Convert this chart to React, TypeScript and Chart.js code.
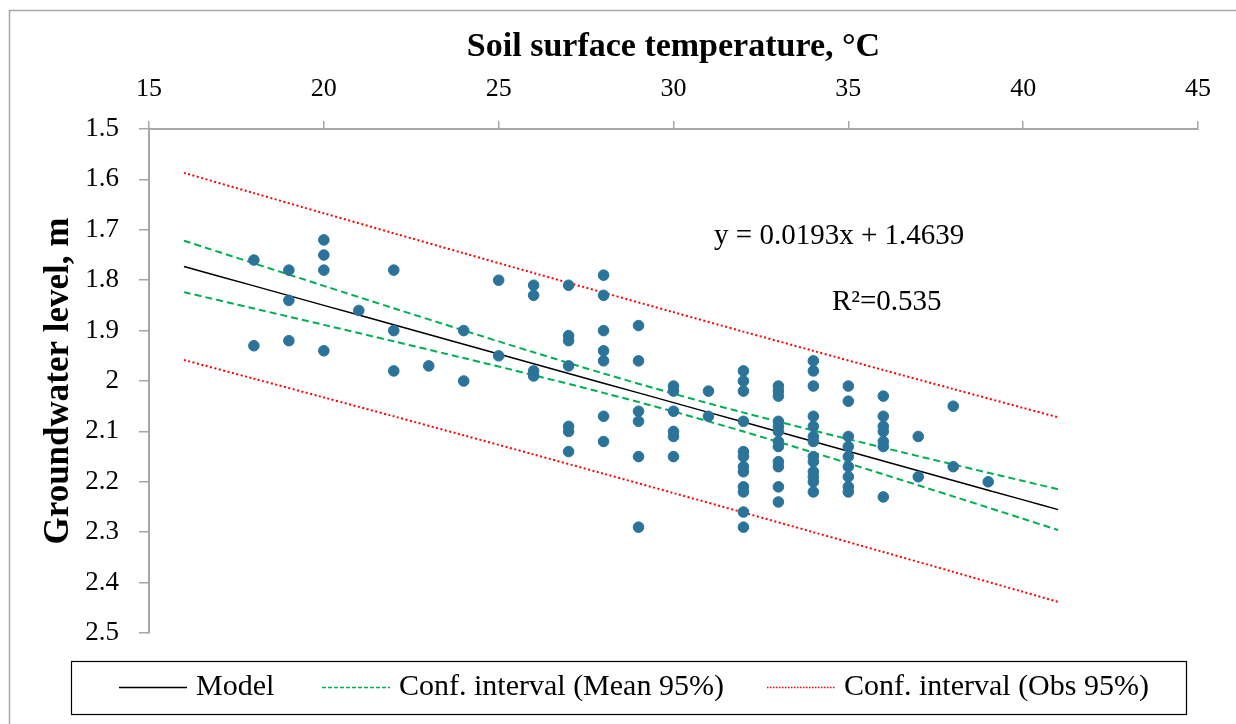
import React, { useEffect, useRef } from "react";
import { Chart, registerables } from "chart.js";

Chart.register(...registerables);

// ---------- data ----------
const xTickValues = [15, 20, 25, 30, 35, 40, 45];
const yTickValues = [1.5, 1.6, 1.7, 1.8, 1.9, 2.0, 2.1, 2.2, 2.3, 2.4, 2.5];
const yTickLabels = ["1.5", "1.6", "1.7", "1.8", "1.9", "2", "2.1", "2.2", "2.3", "2.4", "2.5"];

// observed soil surface temperatures and the groundwater levels observed at each
const obsTemps = [18, 19, 20, 21, 22, 23, 24, 25, 26, 27, 28, 29, 30, 31, 32, 33, 34, 35, 36, 37, 38, 39];
const obsLevels = [
  [1.76, 1.93],
  [1.78, 1.84, 1.92],
  [1.72, 1.75, 1.78, 1.94],
  [1.86],
  [1.78, 1.9, 1.98],
  [1.97],
  [1.9, 2.0],
  [1.8, 1.95],
  [1.81, 1.83, 1.98, 1.99],
  [1.81, 1.91, 1.92, 1.97, 2.09, 2.1, 2.14],
  [1.79, 1.83, 1.9, 1.94, 1.96, 2.07, 2.12],
  [1.89, 1.96, 2.06, 2.08, 2.15, 2.29],
  [2.01, 2.02, 2.06, 2.1, 2.11, 2.15],
  [2.02, 2.07],
  [1.98, 2.0, 2.02, 2.08, 2.14, 2.15, 2.17, 2.18, 2.21, 2.22, 2.26, 2.29],
  [2.01, 2.02, 2.03, 2.08, 2.09, 2.1, 2.12, 2.13, 2.16, 2.17, 2.21, 2.24],
  [1.96, 1.98, 2.01, 2.07, 2.09, 2.11, 2.12, 2.15, 2.16, 2.18, 2.19, 2.2, 2.22],
  [2.01, 2.04, 2.11, 2.13, 2.15, 2.17, 2.19, 2.21, 2.22],
  [2.03, 2.07, 2.09, 2.1, 2.12, 2.13, 2.23],
  [2.11, 2.19],
  [2.05, 2.17],
  [2.2],
];

// regression model and confidence bands, read along the fitted range
const bandTemps = [16, 18, 20, 22, 24, 26, 28, 30, 32, 34, 36, 38, 40, 41];
const modelLevels = [1.7727, 1.8113, 1.8499, 1.8885, 1.9271, 1.9657, 2.0043, 2.0429, 2.0815, 2.1201, 2.1587, 2.1973, 2.2359, 2.2552];
const meanUpper = [1.7217, 1.7665, 1.8112, 1.8557, 1.8997, 1.943, 1.9851, 2.0252, 2.0628, 2.0982, 2.1323, 2.1656, 2.1984, 2.2147];
const meanLower = [1.8237, 1.8561, 1.8886, 1.9213, 1.9545, 1.9884, 2.0235, 2.0606, 2.1002, 2.142, 2.1851, 2.229, 2.2734, 2.2957];
const obsUpper = [1.587, 1.6272, 1.6672, 1.7069, 1.7464, 1.7857, 1.8247, 1.8635, 1.902, 1.9402, 1.9782, 2.0159, 2.0534, 2.0721];
const obsLower = [1.9584, 1.9954, 2.0326, 2.0701, 2.1078, 2.1457, 2.1839, 2.2223, 2.261, 2.3, 2.3392, 2.3787, 2.4184, 2.4383];

const equationText = "y = 0.0193x + 1.4639";
const r2Text = "R\u00b2=0.535";
const legendLabels = ["Model", "Conf. interval (Mean 95%)", "Conf. interval (Obs 95%)"];

// ---------- styles ----------
const FONT = "'Liberation Serif', 'Times New Roman', serif";
const AXIS_GRAY = "#a6a6a6";
const POINT_COLOR = "#2b7399";
const GREEN = "#00b050";
const RED = "#ff0000";

const toPoints = (xs: number[], ys: number[]) => xs.map((x, i) => ({ x, y: ys[i] }));

const decorPlugin = {
  id: "decor",
  beforeDraw(chart: any) {
    const { ctx } = chart;
    ctx.save();
    ctx.strokeStyle = AXIS_GRAY;
    ctx.lineWidth = 1.5;
    ctx.strokeRect(9.5, 10.5, 1400, 1000);
    ctx.restore();
  },
  afterDraw(chart: any) {
    const { ctx, scales } = chart;
    const xs = scales.x;
    const ys = scales.y;
    ctx.save();
    ctx.fillStyle = "#000";
    ctx.textBaseline = "middle";
    ctx.textAlign = "left";
    ctx.font = `29px ${FONT}`;
    ctx.fillText(equationText, xs.getPixelForValue(31.16), ys.getPixelForValue(1.714));
    ctx.fillText(r2Text, xs.getPixelForValue(34.53), ys.getPixelForValue(1.845));

    // legend box
    ctx.strokeStyle = "#000";
    ctx.lineWidth = 1.2;
    ctx.strokeRect(71.5, 661.5, 1115, 53);
    const cy = 687.5;
    const items = [
      { label: legendLabels[0], color: "#000", dash: [] as number[], x: 119 },
      { label: legendLabels[1], color: GREEN, dash: [4, 2], x: 322 },
      { label: legendLabels[2], color: RED, dash: [1.5, 1.5], x: 767 },
    ];
    ctx.font = `30px ${FONT}`;
    items.forEach((it) => {
      ctx.beginPath();
      ctx.setLineDash(it.dash);
      ctx.strokeStyle = it.color;
      ctx.lineWidth = 1.5;
      ctx.moveTo(it.x, cy);
      ctx.lineTo(it.x + 68, cy);
      ctx.stroke();
      ctx.setLineDash([]);
      ctx.fillStyle = "#000";
      ctx.fillText(it.label, it.x + 77, cy);
    });
    ctx.restore();
  },
};

export default function App() {
  const canvasRef = useRef<HTMLCanvasElement | null>(null);

  useEffect(() => {
    const canvas = canvasRef.current;
    if (!canvas) return;
    const scatterPoints: { x: number; y: number }[] = [];
    obsTemps.forEach((t, i) => obsLevels[i].forEach((v) => scatterPoints.push({ x: t, y: v })));

    const lineBase = { type: "line" as const, pointRadius: 0, fill: false, tension: 0.3, order: 2 };

    const chart = new Chart(canvas, {
      type: "scatter",
      data: {
        datasets: [
          {
            label: "Observations",
            data: scatterPoints,
            backgroundColor: POINT_COLOR,
            borderColor: POINT_COLOR,
            pointRadius: 5.3,
            pointHoverRadius: 5.3,
            order: 1,
          },
          { ...lineBase, label: legendLabels[0], data: toPoints(bandTemps, modelLevels), borderColor: "#000", borderWidth: 1.5 },
          { ...lineBase, label: legendLabels[1], data: toPoints(bandTemps, meanUpper), borderColor: GREEN, borderWidth: 2, borderDash: [7, 4] },
          { ...lineBase, label: legendLabels[1], data: toPoints(bandTemps, meanLower), borderColor: GREEN, borderWidth: 2, borderDash: [7, 4] },
          { ...lineBase, label: legendLabels[2], data: toPoints(bandTemps, obsUpper), borderColor: RED, borderWidth: 2, borderDash: [2, 2.5] },
          { ...lineBase, label: legendLabels[2], data: toPoints(bandTemps, obsLower), borderColor: RED, borderWidth: 2, borderDash: [2, 2.5] },
        ] as any,
      },
      options: {
        animation: false,
        responsive: true,
        maintainAspectRatio: false,
        layout: { padding: { left: 0, top: 0, right: 38, bottom: 91 } },
        plugins: { legend: { display: false }, tooltip: { enabled: false } },
        scales: {
          x: {
            type: "linear",
            position: "top",
            min: 15,
            max: 45,
            afterBuildTicks: (scale: any) => {
              scale.ticks = xTickValues.map((v) => ({ value: v }));
            },
            afterFit: (scale: any) => {
              scale.height = 129;
            },
            ticks: {
              color: "#000",
              font: { family: FONT, size: 26 },
              padding: 16,
              maxRotation: 0,
              callback: (v: any) => String(v),
            },
            grid: { drawOnChartArea: false, drawTicks: true, tickLength: 8, color: AXIS_GRAY, lineWidth: 1.5 },
            border: { display: true, color: AXIS_GRAY, width: 2 },
            title: {
              display: true,
              text: "Soil surface temperature, \u00b0C",
              color: "#000",
              font: { family: FONT, size: 34, weight: "bold" },
              padding: { top: 27, bottom: 0 },
            },
          },
          y: {
            type: "linear",
            position: "left",
            reverse: true,
            min: 1.5,
            max: 2.5,
            afterBuildTicks: (scale: any) => {
              scale.ticks = yTickValues.map((v) => ({ value: v }));
            },
            afterFit: (scale: any) => {
              scale.width = 149;
            },
            ticks: {
              color: "#000",
              font: { family: FONT, size: 27 },
              padding: 20,
              callback: (_v: any, i: number) => yTickLabels[i],
            },
            grid: { drawOnChartArea: false, drawTicks: true, tickLength: 10, color: AXIS_GRAY, lineWidth: 1.5 },
            border: { display: true, color: AXIS_GRAY, width: 2 },
            title: {
              display: true,
              text: "Groundwater level, m",
              color: "#000",
              font: { family: FONT, size: 35, weight: "bold" },
              padding: { top: 38, bottom: 0 },
            },
          },
        },
      } as any,
      plugins: [decorPlugin],
    });

    return () => {
      chart.destroy();
    };
  }, []);

  return (
    <div style={{ position: "fixed", left: 0, top: 0, width: 1236, height: 724, background: "#fff" }}>
      <canvas ref={canvasRef} />
    </div>
  );
}
